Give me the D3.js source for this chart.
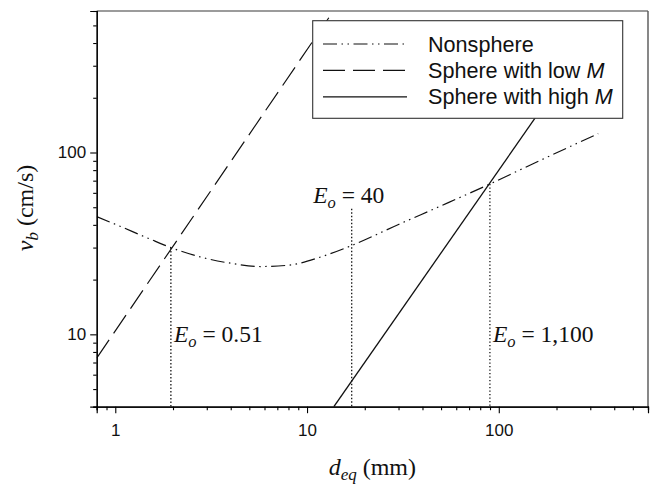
<!DOCTYPE html>
<html><head><meta charset="utf-8">
<script src="https://cdn.jsdelivr.net/npm/d3@7"></script>
<style>body{margin:0;background:#fff}svg{display:block}</style>
</head><body>
<svg id="c" width="652" height="484"></svg>
<script>
// ---- data ----
const xDomain = [0.8, 600];
const yDomain = [4, 600];
const xMajorTicks = [1, 10, 100];
const xTickLabels = ["1", "10", "100"];
const yMajorTicks = [10, 100];
const yTickLabels = ["10", "100"];

const nonsphereD = [0.8, 1, 1.5, 1.95, 3, 4, 5.7, 8, 12, 17.1, 30, 50, 89.9, 150, 250, 330];
const nonsphereV = [44.4, 40.3, 33.6, 30, 26.1, 24.6, 23.6, 24.0, 26.8, 30.8, 40.2, 50.9, 67.1, 86.5, 111, 127];
const lowMD = [0.8, 13.7];
const lowMV = [7.4, 598];
const highMD = [13.8, 250];
const highMV = [4, 320];

const eoD = [1.95, 17.1, 89.9];
const eoTop = [30, 49, 67.1];
const eoLabels = ["0.51", "40", "1,100"];
const eoLabelV = [9.07, 52.5, 9.07];

const legendLabels = ["Nonsphere", "Sphere with low ", "Sphere with high "];
const legendItalic = ["", "M", "M"];

// ---- setup ----
const svg = d3.select("#c");
const x = d3.scaleLog().domain(xDomain).range([96.7, 648]);
const y = d3.scaleLog().domain(yDomain).range([406.7, 11]);
const serif = "'Liberation Serif','Times New Roman',serif";
const sans = "'Liberation Sans',Arial,Helvetica,sans-serif";

svg.append("defs").append("clipPath").attr("id", "clip")
  .append("rect").attr("x", x.range()[0]).attr("y", y.range()[1])
  .attr("width", x.range()[1] - x.range()[0]).attr("height", y.range()[0] - y.range()[1]);

// frame top/right
svg.append("line").attr("x1", x.range()[0]).attr("x2", x.range()[1]).attr("y1", y.range()[1]).attr("y2", y.range()[1])
  .attr("stroke", "#7a7a7a").attr("stroke-width", 1.6);
svg.append("line").attr("x1", x.range()[1]).attr("x2", x.range()[1]).attr("y1", y.range()[1]).attr("y2", y.range()[0])
  .attr("stroke", "#555").attr("stroke-width", 1.4);

const plot = svg.append("g").attr("clip-path", "url(#clip)");
const line = d3.line().x(d => x(d[0])).y(d => y(d[1]));

// dotted verticals
eoD.forEach((d, i) => {
  plot.append("line").attr("x1", x(d)).attr("x2", x(d)).attr("y1", y(eoTop[i])).attr("y2", y(yDomain[0]))
    .attr("stroke", "#000").attr("stroke-width", 1.2).attr("stroke-dasharray", "1.3,2.2");
});

const nsPts = nonsphereD.map((d, i) => [d, nonsphereV[i]]);
plot.append("path").datum(nsPts)
  .attr("d", d3.line().x(d => x(d[0])).y(d => y(d[1])).curve(d3.curveMonotoneX))
  .attr("fill", "none").attr("stroke", "#111").attr("stroke-width", 1.2)
  .attr("stroke-dasharray", "14,4.5,1.5,4.5,1.5,4.5");
plot.append("path").datum(lowMD.map((d, i) => [d, lowMV[i]]))
  .attr("d", line).attr("fill", "none").attr("stroke", "#111").attr("stroke-width", 1.2)
  .attr("stroke-dasharray", "22,8");
plot.append("path").datum(highMD.map((d, i) => [d, highMV[i]]))
  .attr("d", line).attr("fill", "none").attr("stroke", "#111").attr("stroke-width", 1.3);

// axes
const minorX = x.ticks().filter(v => !xMajorTicks.includes(v));
const minorY = y.ticks().filter(v => !yMajorTicks.includes(v));
const gxMin = svg.append("g").attr("transform", `translate(0,${y.range()[0]})`)
  .call(d3.axisBottom(x).tickValues(minorX).tickSize(3.5).tickFormat(""));
const gx = svg.append("g").attr("transform", `translate(0,${y.range()[0]})`)
  .call(d3.axisBottom(x).tickValues(xMajorTicks).tickSize(6.5).tickPadding(11).tickFormat((d, i) => xTickLabels[i]));
const gyMin = svg.append("g").attr("transform", `translate(${x.range()[0]},0)`)
  .call(d3.axisLeft(y).tickValues(minorY).tickSize(3.5).tickFormat(""));
const gy = svg.append("g").attr("transform", `translate(${x.range()[0]},0)`)
  .call(d3.axisLeft(y).tickValues(yMajorTicks).tickSize(6.5).tickPadding(4).tickFormat((d, i) => yTickLabels[i]));
[gxMin, gx, gyMin, gy].forEach(g => {
  g.selectAll("path.domain").attr("stroke", "#000").attr("stroke-width", 1.2);
  g.selectAll(".tick line").attr("stroke", "#000").attr("stroke-width", 1.1);
  g.selectAll("text").attr("font-family", sans).attr("font-size", 17).attr("fill", "#111");
});

// Eo labels
eoD.forEach((d, i) => {
  const t = svg.append("text").attr("font-family", serif).attr("font-size", 23.5).attr("fill", "#111")
    .attr("y", y(eoLabelV[i]));
  if (i === 1) t.attr("x", x(d) - 3).attr("text-anchor", "middle");
  else t.attr("x", x(d) + 3);
  t.append("tspan").attr("font-style", "italic").text("E");
  t.append("tspan").attr("font-style", "italic").attr("font-size", 16.5).attr("dy", 5).text("o");
  t.append("tspan").attr("dy", -5).text(" = " + eoLabels[i]);
});

// axis titles
const xl = svg.append("text").attr("font-family", serif).attr("font-size", 24).attr("fill", "#111")
  .attr("x", (x.range()[0] + x.range()[1]) / 2).attr("y", 475).attr("text-anchor", "middle");
xl.append("tspan").attr("font-style", "italic").text("d");
xl.append("tspan").attr("font-style", "italic").attr("font-size", 17).attr("dy", 5).text("eq");
xl.append("tspan").attr("dy", -5).text(" (mm)");

const yl = svg.append("text").attr("font-family", serif).attr("font-size", 24).attr("fill", "#111")
  .attr("text-anchor", "middle").attr("transform", `translate(33,208) rotate(-90)`);
yl.append("tspan").attr("font-style", "italic").text("v");
yl.append("tspan").attr("font-style", "italic").attr("font-size", 17).attr("dy", 5).text("b");
yl.append("tspan").attr("dy", -5).text(" (cm/s)");

// legend
const lg = svg.append("g");
lg.append("rect").attr("x", 312.7).attr("y", 20.7).attr("width", 310).attr("height", 97.6)
  .attr("fill", "#fff").attr("stroke", "#333").attr("stroke-width", 1.1);
const dashes = ["14,4.5,1.5,4.5,1.5,4.5", "22,8", null];
legendLabels.forEach((lab, i) => {
  const cy = 44 + i * 26.4;
  const l = lg.append("line").attr("x1", 323).attr("x2", 407).attr("y1", cy).attr("y2", cy)
    .attr("stroke", "#111").attr("stroke-width", 1.2);
  if (dashes[i]) l.attr("stroke-dasharray", dashes[i]);
  const t = lg.append("text").attr("x", 428).attr("y", cy + 7.6).attr("font-family", sans)
    .attr("font-size", 21.6).attr("fill", "#111").text(lab);
  if (legendItalic[i]) t.append("tspan").attr("font-style", "italic").text(legendItalic[i]);
});
</script>
</body></html>
